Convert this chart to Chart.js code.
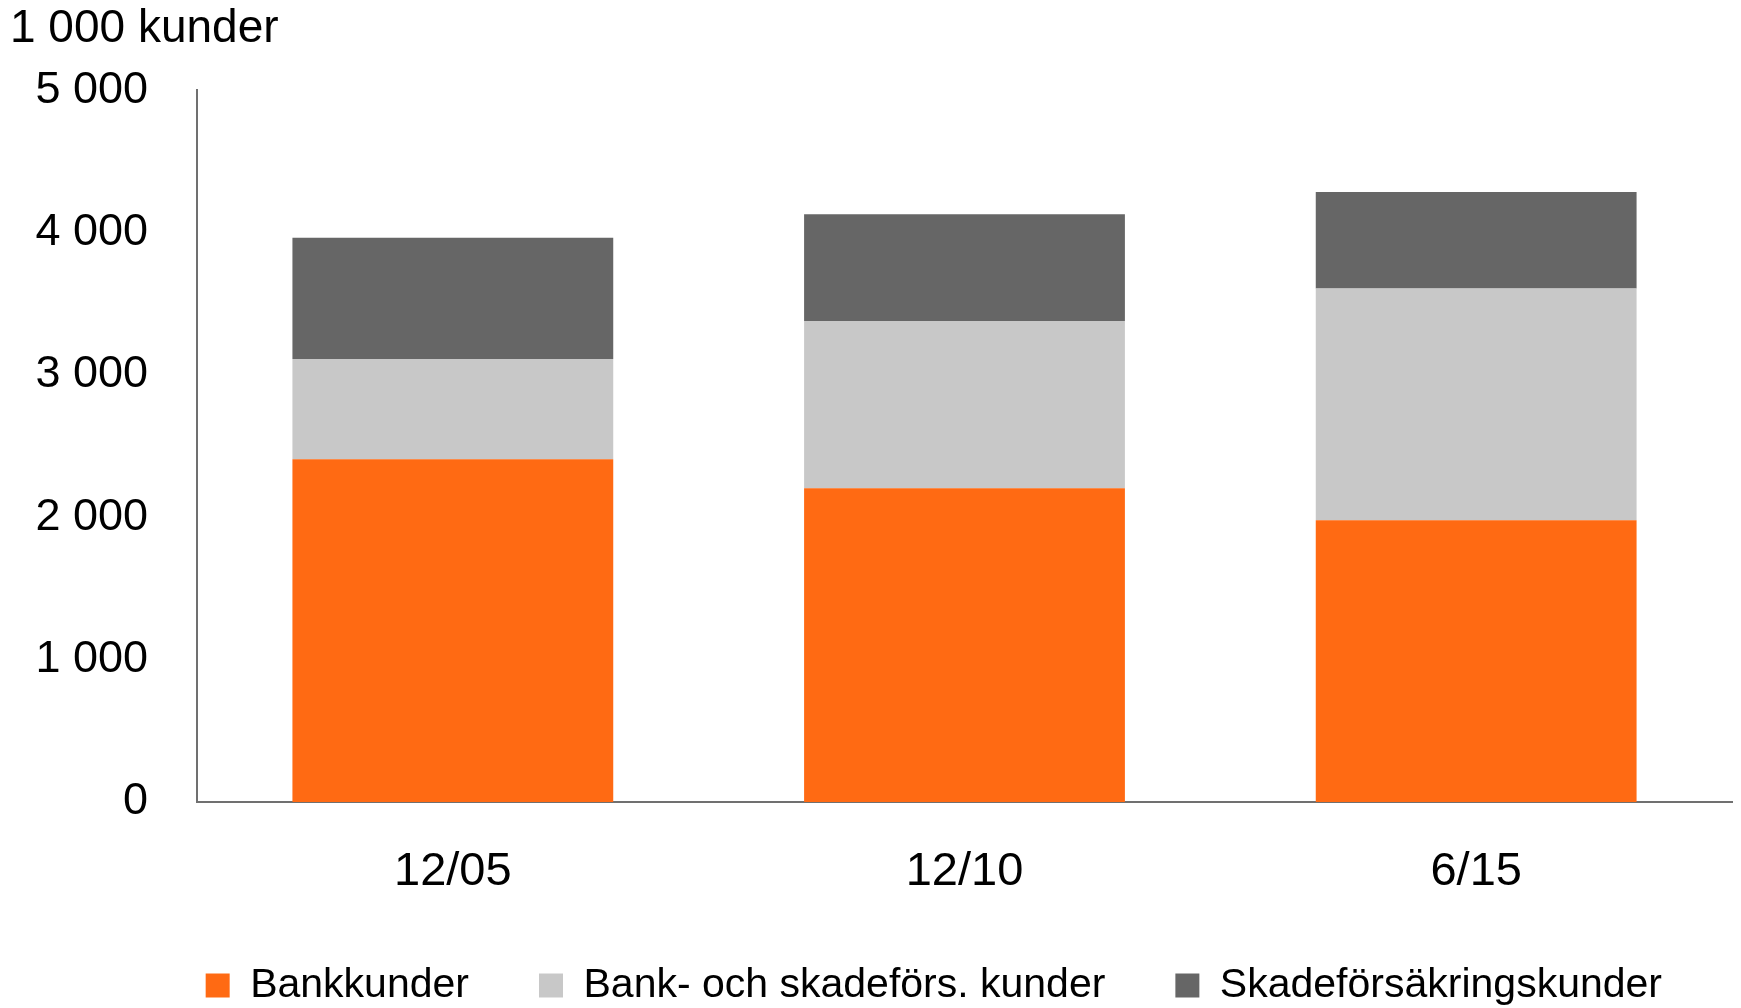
<!DOCTYPE html>
<html>
<head>
<meta charset="utf-8">
<script src="https://cdn.jsdelivr.net/npm/chart.js@4/dist/chart.umd.min.js"></script>
<style>
  html, body { margin: 0; padding: 0; background: #fff; }
  #wrap { width: 1741px; height: 1008px; }
</style>
</head>
<body>
<div id="wrap"><canvas id="kundChart" width="1741" height="1008"></canvas></div>
<script>
// Antal kunder (1 000-tal)
const periods = ['12/05', '12/10', '6/15'];
const bankKunder = [2407, 2204, 1980];
const bankOchSkade = [704, 1174, 1627];
const skadeKunder = [853, 750, 678];
const yTicks = [0, 1000, 2000, 3000, 4000, 5000];

const fontFamily = '"Liberation Sans", Arial, sans-serif';
const axisColor = '#707070';

function fmt(v) {
    return String(v).replace(/\B(?=(\d{3})+(?!\d))/g, ' ');
}

new Chart(document.getElementById('kundChart').getContext('2d'), {
    type: 'bar',
    data: {
        labels: periods,
        datasets: [
            { label: 'Bankkunder', data: bankKunder, backgroundColor: '#ff6a13' },
            { label: 'Bank- och skadeförs. kunder', data: bankOchSkade, backgroundColor: '#c8c8c8' },
            { label: 'Skadeförsäkringskunder', data: skadeKunder, backgroundColor: '#666666' }
        ]
    },
    options: {
        responsive: false,
        animation: false,
        datasets: {
            bar: { barPercentage: 0.627, categoryPercentage: 1.0 }
        },
        layout: {
            padding: { left: 10, right: 9, top: 0, bottom: -8 }
        },
        plugins: {
            title: {
                display: true,
                text: '1 000 kunder',
                align: 'start',
                color: '#000',
                font: { family: fontFamily, size: 46, weight: 'normal' },
                padding: { top: 2, bottom: 33 }
            },
            legend: {
                position: 'bottom',
                align: 'end',
                labels: {
                    color: '#000',
                    font: { family: fontFamily, size: 41 },
                    boxWidth: 24,
                    boxHeight: 24,
                    padding: 70
                }
            },
            tooltip: { enabled: false }
        },
        scales: {
            x: {
                stacked: true,
                grid: { display: false, drawTicks: false },
                border: { display: true, color: axisColor, width: 2 },
                ticks: {
                    color: '#000',
                    font: { family: fontFamily, size: 47, lineHeight: 1 },
                    padding: 47
                },
                // ticks.padding counts twice in fit, so set the height directly
                afterFit: function(scale) { scale.height = 93; }
            },
            y: {
                stacked: true,
                min: 0,
                max: 5000,
                grid: { display: false, drawTicks: false },
                border: { display: true, color: axisColor, width: 2 },
                afterBuildTicks: function(scale) {
                    scale.ticks = yTicks.map(v => ({ value: v }));
                },
                ticks: {
                    color: '#000',
                    font: { family: fontFamily, size: 45 },
                    padding: 49,
                    callback: function(value) { return fmt(value); }
                },
                afterFit: function(scale) { scale.width = 187; }
            }
        }
    }
});
</script>
</body>
</html>
